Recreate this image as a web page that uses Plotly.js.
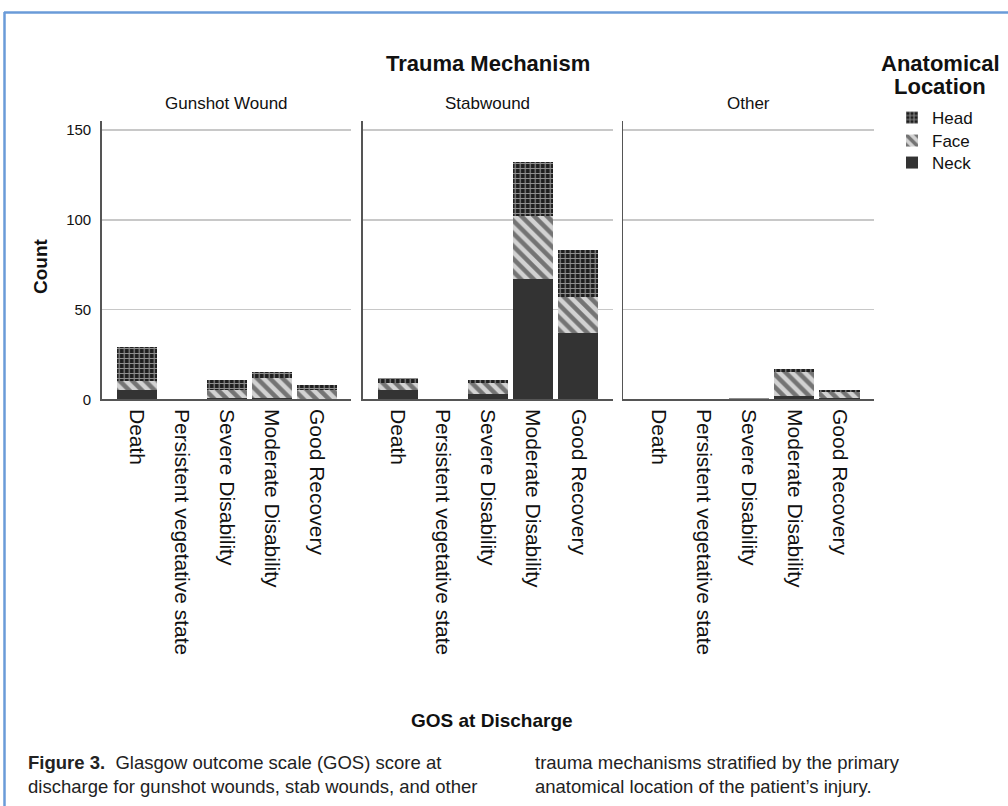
<!DOCTYPE html>
<html>
<head>
<meta charset="utf-8">
<script src="https://cdn.plot.ly/plotly-3.0.1.min.js"></script>
<style>
html,body{margin:0;padding:0;background:#fff;}
#chart{width:1008px;height:806px;}
</style>
</head>
<body>
<div id="chart"></div>
<script>
// ---- data ----
const categories = ['Death','Persistent vegetative state','Severe Disability','Moderate Disability','Good Recovery'];
const mechanisms = ['Gunshot Wound','Stabwound','Other'];
const locations = ['Neck','Face','Head'];

const neckGunshot = [5, 0, 1, 1, 0];
const faceGunshot = [5, 0, 4, 11, 5];
const headGunshot = [19, 0, 6, 3, 3];

const neckStab = [5, 0, 3, 67, 37];
const faceStab = [4, 0, 6, 35, 20];
const headStab = [3, 0, 2, 30, 26];

const neckOther = [0, 0, 0, 2, 1];
const faceOther = [0, 0, 0, 13, 3];
const headOther = [0, 0, 1, 2, 1];

const yTicks = [0, 50, 100, 150];

// ---- helpers ----
const W = 1008, H = 806;
const px = x => x / W;
const py = y => 1 - y / H;
const FONT = 'Liberation Sans, Arial, sans-serif';

const panelData = [
  {neck: neckGunshot, face: faceGunshot, head: headGunshot},
  {neck: neckStab, face: faceStab, head: headStab},
  {neck: neckOther, face: faceOther, head: headOther}
];

const styles = {
  Neck: {color: '#333333', pattern: {shape: ''}, legend: 'legend3', ly: 163},
  Face: {color: '#d2d2d2', pattern: {shape: '\\', bgcolor: '#d2d2d2', fgcolor: '#151515', size: 9, solidity: 0.5, fillmode: 'overlay'}, legend: 'legend2', ly: 141},
  Head: {color: '#1e1e1e', pattern: {shape: '+', bgcolor: '#1e1e1e', fgcolor: '#ffffff', size: 5, solidity: 0.42, fillmode: 'overlay'}, legend: 'legend', ly: 118}
};

const traces = [];
panelData.forEach((pd, i) => {
  const xa = i === 0 ? 'x' : 'x' + (i + 1);
  const ya = i === 0 ? 'y' : 'y' + (i + 1);
  locations.forEach(loc => {
    const vals = pd[loc.toLowerCase()];
    traces.push({
      type: 'bar',
      name: loc,
      x: categories,
      y: vals,
      xaxis: xa,
      yaxis: ya,
      legend: styles[loc].legend,
      legendgroup: loc,
      showlegend: i === 0,
      marker: {color: styles[loc].color, pattern: styles[loc].pattern, line: {width: 0}},
      hoverinfo: 'x+y+name'
    });
  });
});

const domainsX = [[px(101.7), px(351)], [px(362.7), px(612.7)], [px(623.3), px(874)]];
const domainY = [py(399.3), py(121)];

const tickFont = {family: FONT, size: 21, color: '#111'};

function legendAt(y) {
  return {
    x: px(892), y: py(y), xanchor: 'left', yanchor: 'middle',
    font: {size: 17, family: FONT, color: '#111'},
    bgcolor: 'rgba(0,0,0,0)', borderwidth: 0,
    itemwidth: 30, tracegroupgap: 0
  };
}

const layout = {
  width: W, height: H,
  margin: {l: 0, r: 0, t: 0, b: 0},
  paper_bgcolor: '#ffffff',
  plot_bgcolor: '#ffffff',
  barmode: 'stack',
  bargap: 0.11,
  font: {family: FONT, color: '#111'},
  showlegend: true,
  legend: legendAt(styles.Head.ly),
  legend2: legendAt(styles.Face.ly),
  legend3: legendAt(styles.Neck.ly),
  annotations: [],
  shapes: [
    {type: 'line', xref: 'paper', yref: 'paper', x0: px(4), x1: px(1008), y0: py(12.5), y1: py(12.5), line: {color: '#6a9bd8', width: 2.5}},
    {type: 'line', xref: 'paper', yref: 'paper', x0: px(4.5), x1: px(4.5), y0: py(12), y1: py(806), line: {color: '#6a9bd8', width: 2.5}}
  ]
};

for (let i = 0; i < 3; i++) {
  const sfx = i === 0 ? '' : String(i + 1);
  layout['xaxis' + sfx] = {
    domain: domainsX[i],
    anchor: i === 0 ? 'y' : 'y' + (i + 1),
    type: 'category',
    range: [-0.78, 4.76],
    tickangle: 90,
    tickfont: tickFont,
    ticks: '',
    showline: true, linecolor: '#555', linewidth: 1.5,
    showgrid: false, zeroline: false,
    ticklabelstandoff: 4,
    fixedrange: true
  };
  layout['yaxis' + sfx] = {
    domain: domainY,
    anchor: i === 0 ? 'x' : 'x' + (i + 1),
    range: [0, 155],
    tickvals: yTicks,
    ticktext: yTicks.map(String),
    showticklabels: i === 0,
    tickfont: {family: FONT, size: 15, color: '#111'},
    ticks: '',
    ticklabelstandoff: 6,
    showline: true, linecolor: '#555', linewidth: 1.5,
    showgrid: true, gridcolor: '#c8c8c8', gridwidth: 1.5,
    zeroline: false,
    fixedrange: true
  };
  layout.annotations.push({
    xref: 'paper', yref: 'paper',
    x: (domainsX[i][0] + domainsX[i][1]) / 2, y: py(103),
    xanchor: 'center', yanchor: 'middle', showarrow: false,
    text: mechanisms[i],
    font: {size: 17, family: FONT, color: '#111'}
  });
}

layout.annotations.push(
  {xref: 'paper', yref: 'paper', x: px(488), y: py(64), xanchor: 'center', yanchor: 'middle', showarrow: false,
   text: '<b>Trauma Mechanism</b>', font: {size: 22, family: FONT, color: '#111'}},
  {xref: 'paper', yref: 'paper', x: px(40), y: py(266), xanchor: 'center', yanchor: 'middle', showarrow: false, textangle: -90,
   text: '<b>Count</b>', font: {size: 19, family: FONT, color: '#111'}},
  {xref: 'paper', yref: 'paper', x: px(492), y: py(720), xanchor: 'center', yanchor: 'middle', showarrow: false,
   text: '<b>GOS at Discharge</b>', font: {size: 19, family: FONT, color: '#111'}},
  {xref: 'paper', yref: 'paper', x: px(940), y: py(63), xanchor: 'center', yanchor: 'middle', showarrow: false,
   text: '<b>Anatomical</b>', font: {size: 22, family: FONT, color: '#111'}},
  {xref: 'paper', yref: 'paper', x: px(940), y: py(86), xanchor: 'center', yanchor: 'middle', showarrow: false,
   text: '<b>Location</b>', font: {size: 22, family: FONT, color: '#111'}},
  {xref: 'paper', yref: 'paper', x: px(26), y: py(774), xanchor: 'left', yanchor: 'middle', showarrow: false, align: 'left',
   text: '<b>Figure 3.</b>  Glasgow outcome scale (GOS) score at<br>discharge for gunshot wounds, stab wounds, and other',
   font: {size: 18.5, family: FONT, color: '#222'}},
  {xref: 'paper', yref: 'paper', x: px(533), y: py(774), xanchor: 'left', yanchor: 'middle', showarrow: false, align: 'left',
   text: 'trauma mechanisms stratified by the primary<br>anatomical location of the patient\u2019s injury.',
   font: {size: 18.5, family: FONT, color: '#222'}}
);

Plotly.newPlot('chart', traces, layout, {displayModeBar: false, staticPlot: true});
</script>
</body>
</html>
